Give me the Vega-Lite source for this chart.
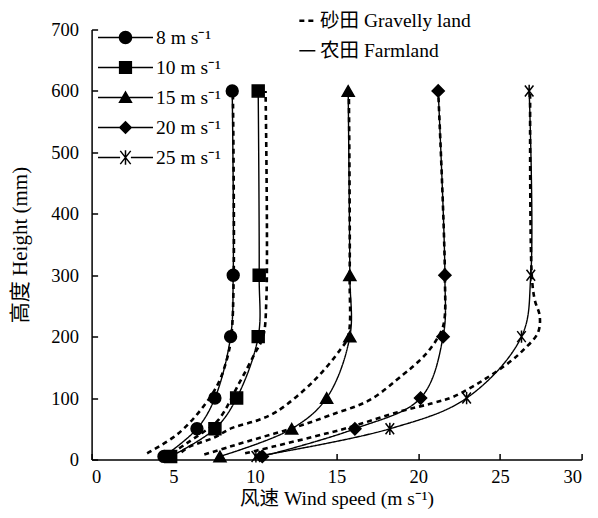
{
  "$schema": "https://vega.github.io/schema/vega-lite/v6.json",
  "width": 490,
  "height": 430,
  "autosize": {"type": "none"},
  "padding": {"left": 91.6, "top": 29.5, "right": 16.4, "bottom": 58.5},
  "background": "white",
  "config": {
    "font": "Liberation Serif, Noto Sans CJK SC",
    "view": {"stroke": null},
    "axis": {
      "grid": false,
      "domainColor": "black",
      "domainWidth": 1.5,
      "tickColor": "black",
      "tickWidth": 1.5,
      "tickSize": -6,
      "labelFont": "Liberation Serif",
      "labelFontSize": 18.5,
      "labelColor": "black",
      "titleFont": "Liberation Serif, Noto Sans CJK SC",
      "titleFontSize": 19.5,
      "titleFontWeight": "normal",
      "titleColor": "black"
    },
    "legend": {
      "labelFont": "Liberation Serif, Noto Sans CJK SC",
      "labelFontSize": 19.5,
      "labelColor": "black",
      "title": null
    }
  },
  "data": {
    "values": [
      {"land": "Farmland", "speed": "8", "h": 5, "v": 4.43},
      {"land": "Farmland", "speed": "8", "h": 50, "v": 6.45},
      {"land": "Farmland", "speed": "8", "h": 100, "v": 7.55},
      {"land": "Farmland", "speed": "8", "h": 200, "v": 8.51},
      {"land": "Farmland", "speed": "8", "h": 300, "v": 8.67},
      {"land": "Farmland", "speed": "8", "h": 600, "v": 8.61},
      {"land": "Farmland", "speed": "10", "h": 5, "v": 4.84},
      {"land": "Farmland", "speed": "10", "h": 50, "v": 7.55},
      {"land": "Farmland", "speed": "10", "h": 100, "v": 8.88},
      {"land": "Farmland", "speed": "10", "h": 200, "v": 10.2},
      {"land": "Farmland", "speed": "10", "h": 300, "v": 10.26},
      {"land": "Farmland", "speed": "10", "h": 600, "v": 10.2},
      {"land": "Farmland", "speed": "15", "h": 5, "v": 7.86},
      {"land": "Farmland", "speed": "15", "h": 50, "v": 12.25},
      {"land": "Farmland", "speed": "15", "h": 100, "v": 14.39},
      {"land": "Farmland", "speed": "15", "h": 200, "v": 15.81},
      {"land": "Farmland", "speed": "15", "h": 300, "v": 15.81},
      {"land": "Farmland", "speed": "15", "h": 600, "v": 15.71},
      {"land": "Farmland", "speed": "20", "h": 5, "v": 10.45},
      {"land": "Farmland", "speed": "20", "h": 50, "v": 16.12},
      {"land": "Farmland", "speed": "20", "h": 100, "v": 20.14},
      {"land": "Farmland", "speed": "20", "h": 200, "v": 21.52},
      {"land": "Farmland", "speed": "20", "h": 300, "v": 21.63},
      {"land": "Farmland", "speed": "20", "h": 600, "v": 21.22},
      {"land": "Farmland", "speed": "25", "h": 5, "v": 10.06},
      {"land": "Farmland", "speed": "25", "h": 50, "v": 18.26},
      {"land": "Farmland", "speed": "25", "h": 100, "v": 22.96},
      {"land": "Farmland", "speed": "25", "h": 200, "v": 26.32},
      {"land": "Farmland", "speed": "25", "h": 300, "v": 26.89},
      {"land": "Farmland", "speed": "25", "h": 600, "v": 26.79},
      {"land": "Gravelly", "speed": "8", "h": 10, "v": 3.4},
      {"land": "Gravelly", "speed": "8", "h": 40, "v": 5.2},
      {"land": "Gravelly", "speed": "8", "h": 78, "v": 6.6},
      {"land": "Gravelly", "speed": "8", "h": 121, "v": 7.7},
      {"land": "Gravelly", "speed": "8", "h": 162, "v": 8.27},
      {"land": "Gravelly", "speed": "8", "h": 200, "v": 8.55},
      {"land": "Gravelly", "speed": "8", "h": 300, "v": 8.7},
      {"land": "Gravelly", "speed": "8", "h": 600, "v": 8.65},
      {"land": "Gravelly", "speed": "10", "h": 10, "v": 4.9},
      {"land": "Gravelly", "speed": "10", "h": 26, "v": 5.8},
      {"land": "Gravelly", "speed": "10", "h": 43, "v": 6.75},
      {"land": "Gravelly", "speed": "10", "h": 64, "v": 7.75},
      {"land": "Gravelly", "speed": "10", "h": 125, "v": 9.05},
      {"land": "Gravelly", "speed": "10", "h": 173, "v": 10.0},
      {"land": "Gravelly", "speed": "10", "h": 200, "v": 10.5},
      {"land": "Gravelly", "speed": "10", "h": 260, "v": 10.7},
      {"land": "Gravelly", "speed": "10", "h": 600, "v": 10.65},
      {"land": "Gravelly", "speed": "15", "h": 12, "v": 5.5},
      {"land": "Gravelly", "speed": "15", "h": 21, "v": 6.0},
      {"land": "Gravelly", "speed": "15", "h": 35, "v": 7.45},
      {"land": "Gravelly", "speed": "15", "h": 51, "v": 8.57},
      {"land": "Gravelly", "speed": "15", "h": 64, "v": 10.18},
      {"land": "Gravelly", "speed": "15", "h": 78, "v": 11.33},
      {"land": "Gravelly", "speed": "15", "h": 127, "v": 13.57},
      {"land": "Gravelly", "speed": "15", "h": 178, "v": 15.2},
      {"land": "Gravelly", "speed": "15", "h": 200, "v": 15.7},
      {"land": "Gravelly", "speed": "15", "h": 300, "v": 15.8},
      {"land": "Gravelly", "speed": "15", "h": 600, "v": 15.75},
      {"land": "Gravelly", "speed": "20", "h": 8, "v": 6.9},
      {"land": "Gravelly", "speed": "20", "h": 21, "v": 8.47},
      {"land": "Gravelly", "speed": "20", "h": 37, "v": 10.51},
      {"land": "Gravelly", "speed": "20", "h": 53, "v": 12.55},
      {"land": "Gravelly", "speed": "20", "h": 72, "v": 14.59},
      {"land": "Gravelly", "speed": "20", "h": 97, "v": 17.04},
      {"land": "Gravelly", "speed": "20", "h": 138, "v": 19.06},
      {"land": "Gravelly", "speed": "20", "h": 154, "v": 19.79},
      {"land": "Gravelly", "speed": "20", "h": 173, "v": 20.51},
      {"land": "Gravelly", "speed": "20", "h": 195, "v": 21.12},
      {"land": "Gravelly", "speed": "20", "h": 220, "v": 21.55},
      {"land": "Gravelly", "speed": "20", "h": 300, "v": 21.63},
      {"land": "Gravelly", "speed": "20", "h": 600, "v": 21.22},
      {"land": "Gravelly", "speed": "25", "h": 10, "v": 9.4},
      {"land": "Gravelly", "speed": "25", "h": 21, "v": 11.12},
      {"land": "Gravelly", "speed": "25", "h": 37, "v": 13.57},
      {"land": "Gravelly", "speed": "25", "h": 51, "v": 15.61},
      {"land": "Gravelly", "speed": "25", "h": 78, "v": 18.87},
      {"land": "Gravelly", "speed": "25", "h": 92, "v": 20.91},
      {"land": "Gravelly", "speed": "25", "h": 102, "v": 22.14},
      {"land": "Gravelly", "speed": "25", "h": 129, "v": 23.97},
      {"land": "Gravelly", "speed": "25", "h": 159, "v": 25.61},
      {"land": "Gravelly", "speed": "25", "h": 178, "v": 26.42},
      {"land": "Gravelly", "speed": "25", "h": 206, "v": 27.32},
      {"land": "Gravelly", "speed": "25", "h": 233, "v": 27.44},
      {"land": "Gravelly", "speed": "25", "h": 260, "v": 27.13},
      {"land": "Gravelly", "speed": "25", "h": 300, "v": 26.95},
      {"land": "Gravelly", "speed": "25", "h": 600, "v": 26.85}
    ]
  },
  "encoding": {
    "x": {
      "field": "v",
      "type": "quantitative",
      "scale": {"domain": [0, 30], "nice": false, "zero": false},
      "axis": {
        "values": [0, 5, 10, 15, 20, 25, 30],
        "title": "风速 Wind speed (m s⁻¹)",
        "labelPadding": 14,
        "titlePadding": 3
      }
    },
    "y": {
      "field": "h",
      "type": "quantitative",
      "scale": {"domain": [0, 700], "nice": false},
      "axis": {
        "values": [0, 100, 200, 300, 400, 500, 600, 700],
        "title": "高度 Height (mm)",
        "titleColor": "#000000",
        "titleFontSize": 21,
        "labelPadding": 19,
        "titlePadding": 20
      }
    }
  },
  "layer": [
    {
      "mark": {"type": "line", "interpolate": "catmull-rom", "color": "black"},
      "encoding": {
        "detail": {"field": "speed"},
        "order": {"field": "h", "type": "quantitative"},
        "strokeDash": {
          "field": "land",
          "type": "nominal",
          "scale": {"domain": ["Gravelly", "Farmland"], "range": [[5, 4], [1, 0]]},
          "legend": {
            "orient": "none",
            "legendX": 206,
            "legendY": -18.5,
            "symbolType": "stroke",
            "symbolSize": 256,
            "symbolStrokeWidth": 2.2,
            "symbolStrokeColor": "black",
            "labelOffset": 3,
            "rowPadding": 9,
            "labelExpr": "datum.value == 'Gravelly' ? '砂田 Gravelly land' : '农田 Farmland'"
          }
        },
        "strokeWidth": {
          "field": "land",
          "type": "nominal",
          "scale": {"domain": ["Gravelly", "Farmland"], "range": [2.6, 1.4]},
          "legend": null
        }
      }
    },
    {
      "transform": [{"filter": "datum.land == 'Farmland'"}],
      "mark": {"type": "point", "filled": true, "color": "black", "stroke": "black", "strokeWidth": 1.5, "opacity": 1},
      "encoding": {
        "shape": {
          "field": "speed",
          "type": "nominal",
          "scale": {
            "domain": ["8", "10", "15", "20", "25"],
            "range": ["circle", "square", "triangle-up", "diamond", "M-0.7,-0.9L0.7,0.9M-0.7,0.9L0.7,-0.9M0,-1V1"]
          },
          "legend": null
        },
        "size": {
          "field": "speed",
          "type": "ordinal",
          "scale": {"domain": ["8", "10", "15", "20", "25"], "range": [140, 150, 190, 160, 240]},
          "legend": null
        }
      }
    },
    {
      "transform": [{"filter": "datum.land == 'Farmland' && datum.h == 600"}],
      "mark": {"type": "point", "filled": true, "color": "black", "opacity": 0, "size": 900},
      "encoding": {
        "shape": {
          "field": "speed",
          "type": "nominal",
          "scale": {
            "domain": ["8", "10", "15", "20", "25"],
            "range": [
              "M-1.833,-0.05H1.833V0.05H-1.833ZM0.45,0A0.45,0.45,0,1,1,-0.45,0A0.45,0.45,0,1,1,0.45,0Z",
              "M-1.833,-0.05H1.833V0.05H-1.833ZM-0.44,-0.44H0.44V0.44H-0.44Z",
              "M-1.833,-0.05H1.833V0.05H-1.833ZM0,-0.46L0.48,0.37L-0.48,0.37Z",
              "M-1.833,-0.05H1.833V0.05H-1.833ZM0,-0.45L0.45,0L0,0.45L-0.45,0Z",
              "M-1.833,-0.05H-0.36V0.05H-1.833ZM0.36,-0.05H1.833V0.05H0.36ZM-0.05,-0.477H0.05V0.477H-0.05ZM-0.387,-0.409L-0.309,-0.471L0.387,0.409L0.309,0.471ZM-0.309,0.471L-0.387,0.409L0.309,-0.471L0.387,-0.409Z"
            ]
          },
          "legend": {
            "orient": "none",
            "legendX": 18.9,
            "legendY": -7,
            "symbolSize": 900,
            "symbolOpacity": 1,
            "symbolFillColor": "black",
            "symbolStrokeColor": "black",
            "symbolStrokeWidth": 0,
            "labelOffset": 15.5,
            "rowPadding": 5,
            "labelExpr": "datum.value + ' m s⁻¹'"
          }
        }
      }
    }
  ],
  "resolve": {"scale": {"shape": "independent"}, "legend": {"shape": "independent"}}
}
